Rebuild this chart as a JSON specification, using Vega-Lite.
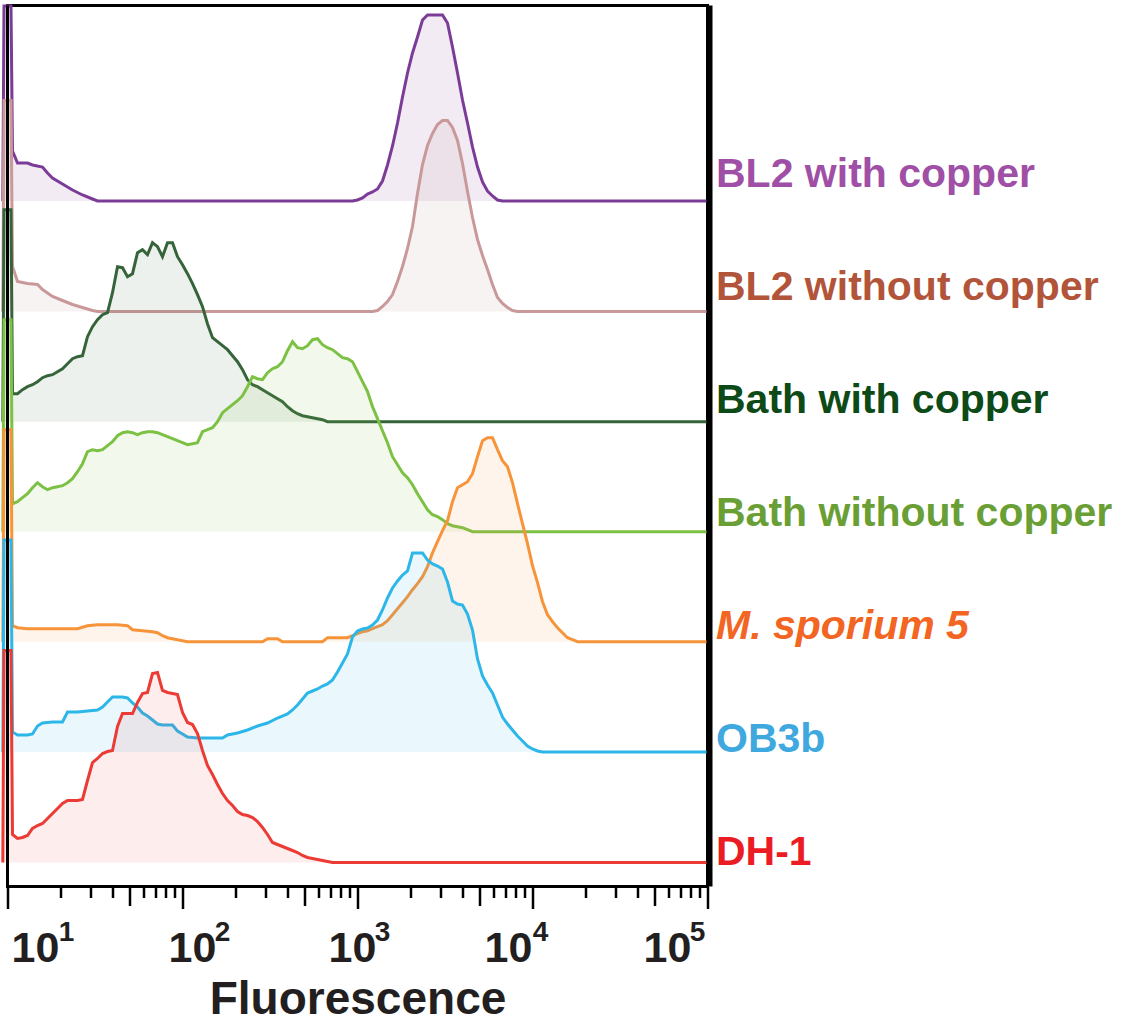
{
  "$schema": "https://vega.github.io/schema/vega-lite/v6.json",
  "width": 700,
  "height": 881,
  "autosize": {"type": "none"},
  "padding": {"left": 7.5, "top": 5.5, "right": 414.5, "bottom": 137.5},
  "background": "white",
  "config": {"view": {"stroke": "black", "strokeWidth": 3}, "font": "Liberation Sans"},
  "data": {"values": [
    {"s":"BL2 with copper","f":9.4,"c":0},{"s":"BL2 with copper","f":9.55,"c":195},{"s":"BL2 with copper","f":10.47,"c":195},{"s":"BL2 with copper","f":10.68,"c":50},{"s":"BL2 with copper","f":11.41,"c":38},{"s":"BL2 with copper","f":13.01,"c":38},{"s":"BL2 with copper","f":13.89,"c":36},{"s":"BL2 with copper","f":15.85,"c":34},{"s":"BL2 with copper","f":16.93,"c":28},{"s":"BL2 with copper","f":18.08,"c":23},{"s":"BL2 with copper","f":20.62,"c":17},{"s":"BL2 with copper","f":23.52,"c":11},{"s":"BL2 with copper","f":26.83,"c":6},{"s":"BL2 with copper","f":30.6,"c":2},{"s":"BL2 with copper","f":32.68,"c":0},{"s":"BL2 with copper","f":936.3,"c":0},{"s":"BL2 with copper","f":1000,"c":1},{"s":"BL2 with copper","f":1068,"c":3},{"s":"BL2 with copper","f":1141,"c":7},{"s":"BL2 with copper","f":1218,"c":9},{"s":"BL2 with copper","f":1301,"c":12},{"s":"BL2 with copper","f":1389,"c":20},{"s":"BL2 with copper","f":1484,"c":36},{"s":"BL2 with copper","f":1585,"c":55},{"s":"BL2 with copper","f":1693,"c":78},{"s":"BL2 with copper","f":1808,"c":104},{"s":"BL2 with copper","f":1931,"c":128},{"s":"BL2 with copper","f":2062,"c":148},{"s":"BL2 with copper","f":2202,"c":164},{"s":"BL2 with copper","f":2352,"c":181},{"s":"BL2 with copper","f":2512,"c":186},{"s":"BL2 with copper","f":3060,"c":186},{"s":"BL2 with copper","f":3268,"c":178},{"s":"BL2 with copper","f":3490,"c":154},{"s":"BL2 with copper","f":3728,"c":128},{"s":"BL2 with copper","f":3981,"c":101},{"s":"BL2 with copper","f":4252,"c":78},{"s":"BL2 with copper","f":4541,"c":54},{"s":"BL2 with copper","f":4850,"c":34},{"s":"BL2 with copper","f":5180,"c":19},{"s":"BL2 with copper","f":5532,"c":10},{"s":"BL2 with copper","f":5908,"c":5},{"s":"BL2 with copper","f":6310,"c":1},{"s":"BL2 with copper","f":6739,"c":0},{"s":"BL2 with copper","f":100000,"c":0},

    {"s":"BL2 without copper","f":9.4,"c":0},{"s":"BL2 without copper","f":9.55,"c":211},{"s":"BL2 without copper","f":10.47,"c":211},{"s":"BL2 without copper","f":10.68,"c":45},{"s":"BL2 without copper","f":11.41,"c":30},{"s":"BL2 without copper","f":13.01,"c":28},{"s":"BL2 without copper","f":14.84,"c":27},{"s":"BL2 without copper","f":15.85,"c":22},{"s":"BL2 without copper","f":18.08,"c":15},{"s":"BL2 without copper","f":20.62,"c":11},{"s":"BL2 without copper","f":23.52,"c":7},{"s":"BL2 without copper","f":26.83,"c":4},{"s":"BL2 without copper","f":30.6,"c":1},{"s":"BL2 without copper","f":32.68,"c":0},{"s":"BL2 without copper","f":1218,"c":0},{"s":"BL2 without copper","f":1301,"c":1},{"s":"BL2 without copper","f":1389,"c":5},{"s":"BL2 without copper","f":1484,"c":10},{"s":"BL2 without copper","f":1585,"c":17},{"s":"BL2 without copper","f":1693,"c":30},{"s":"BL2 without copper","f":1808,"c":45},{"s":"BL2 without copper","f":1931,"c":63},{"s":"BL2 without copper","f":2062,"c":85},{"s":"BL2 without copper","f":2202,"c":118},{"s":"BL2 without copper","f":2352,"c":147},{"s":"BL2 without copper","f":2512,"c":166},{"s":"BL2 without copper","f":2683,"c":178},{"s":"BL2 without copper","f":2865,"c":187},{"s":"BL2 without copper","f":3060,"c":191},{"s":"BL2 without copper","f":3268,"c":191},{"s":"BL2 without copper","f":3490,"c":184},{"s":"BL2 without copper","f":3728,"c":171},{"s":"BL2 without copper","f":3981,"c":148},{"s":"BL2 without copper","f":4252,"c":120},{"s":"BL2 without copper","f":4541,"c":94},{"s":"BL2 without copper","f":4850,"c":72},{"s":"BL2 without copper","f":5180,"c":56},{"s":"BL2 without copper","f":5532,"c":42},{"s":"BL2 without copper","f":5908,"c":27},{"s":"BL2 without copper","f":6310,"c":14},{"s":"BL2 without copper","f":6739,"c":8},{"s":"BL2 without copper","f":7197,"c":4},{"s":"BL2 without copper","f":7686,"c":1},{"s":"BL2 without copper","f":8209,"c":0},{"s":"BL2 without copper","f":100000,"c":0},

    {"s":"Bath with copper","f":9.4,"c":0},{"s":"Bath with copper","f":9.55,"c":212},{"s":"Bath with copper","f":10.47,"c":212},{"s":"Bath with copper","f":10.68,"c":28},{"s":"Bath with copper","f":11.41,"c":28},{"s":"Bath with copper","f":12.18,"c":32},{"s":"Bath with copper","f":13.01,"c":35},{"s":"Bath with copper","f":13.89,"c":37},{"s":"Bath with copper","f":14.84,"c":40},{"s":"Bath with copper","f":15.85,"c":44},{"s":"Bath with copper","f":16.93,"c":46},{"s":"Bath with copper","f":18.08,"c":47},{"s":"Bath with copper","f":19.31,"c":50},{"s":"Bath with copper","f":20.62,"c":53},{"s":"Bath with copper","f":22.02,"c":58},{"s":"Bath with copper","f":23.52,"c":63},{"s":"Bath with copper","f":25.12,"c":65},{"s":"Bath with copper","f":26.83,"c":66},{"s":"Bath with copper","f":28.65,"c":85},{"s":"Bath with copper","f":30.6,"c":95},{"s":"Bath with copper","f":32.68,"c":102},{"s":"Bath with copper","f":34.9,"c":107},{"s":"Bath with copper","f":37.28,"c":109},{"s":"Bath with copper","f":39.81,"c":129},{"s":"Bath with copper","f":42.52,"c":155},{"s":"Bath with copper","f":45.41,"c":154},{"s":"Bath with copper","f":48.5,"c":145},{"s":"Bath with copper","f":51.8,"c":148},{"s":"Bath with copper","f":55.32,"c":169},{"s":"Bath with copper","f":59.08,"c":172},{"s":"Bath with copper","f":63.1,"c":167},{"s":"Bath with copper","f":67.39,"c":179},{"s":"Bath with copper","f":71.97,"c":175},{"s":"Bath with copper","f":76.86,"c":165},{"s":"Bath with copper","f":82.09,"c":179},{"s":"Bath with copper","f":87.67,"c":179},{"s":"Bath with copper","f":93.63,"c":165},{"s":"Bath with copper","f":100,"c":157},{"s":"Bath with copper","f":106.8,"c":148},{"s":"Bath with copper","f":114.1,"c":138},{"s":"Bath with copper","f":121.8,"c":127},{"s":"Bath with copper","f":130.1,"c":115},{"s":"Bath with copper","f":138.9,"c":98},{"s":"Bath with copper","f":148.4,"c":84},{"s":"Bath with copper","f":158.5,"c":80},{"s":"Bath with copper","f":169.3,"c":76},{"s":"Bath with copper","f":180.8,"c":72},{"s":"Bath with copper","f":193.1,"c":66},{"s":"Bath with copper","f":206.2,"c":60},{"s":"Bath with copper","f":220.2,"c":52},{"s":"Bath with copper","f":235.2,"c":42},{"s":"Bath with copper","f":251.2,"c":37},{"s":"Bath with copper","f":268.3,"c":35},{"s":"Bath with copper","f":286.5,"c":32},{"s":"Bath with copper","f":306,"c":29},{"s":"Bath with copper","f":326.8,"c":26},{"s":"Bath with copper","f":349,"c":23},{"s":"Bath with copper","f":372.8,"c":20},{"s":"Bath with copper","f":398.1,"c":15},{"s":"Bath with copper","f":425.2,"c":11},{"s":"Bath with copper","f":454.1,"c":8},{"s":"Bath with copper","f":485,"c":6},{"s":"Bath with copper","f":553.2,"c":4},{"s":"Bath with copper","f":631,"c":2},{"s":"Bath with copper","f":673.9,"c":0},{"s":"Bath with copper","f":100000,"c":0},

    {"s":"Bath without copper","f":9.4,"c":0},{"s":"Bath without copper","f":9.55,"c":212},{"s":"Bath without copper","f":10.47,"c":212},{"s":"Bath without copper","f":10.68,"c":28},{"s":"Bath without copper","f":11.41,"c":30},{"s":"Bath without copper","f":12.18,"c":34},{"s":"Bath without copper","f":13.01,"c":38},{"s":"Bath without copper","f":13.89,"c":44},{"s":"Bath without copper","f":14.84,"c":49},{"s":"Bath without copper","f":15.85,"c":45},{"s":"Bath without copper","f":16.93,"c":42},{"s":"Bath without copper","f":18.08,"c":44},{"s":"Bath without copper","f":19.31,"c":45},{"s":"Bath without copper","f":20.62,"c":46},{"s":"Bath without copper","f":22.02,"c":49},{"s":"Bath without copper","f":23.52,"c":53},{"s":"Bath without copper","f":25.12,"c":60},{"s":"Bath without copper","f":26.83,"c":68},{"s":"Bath without copper","f":28.65,"c":80},{"s":"Bath without copper","f":30.6,"c":82},{"s":"Bath without copper","f":32.68,"c":81},{"s":"Bath without copper","f":34.9,"c":82},{"s":"Bath without copper","f":37.28,"c":86},{"s":"Bath without copper","f":39.81,"c":90},{"s":"Bath without copper","f":42.52,"c":96},{"s":"Bath without copper","f":45.41,"c":99},{"s":"Bath without copper","f":48.5,"c":100},{"s":"Bath without copper","f":51.8,"c":99},{"s":"Bath without copper","f":55.32,"c":97},{"s":"Bath without copper","f":59.08,"c":99},{"s":"Bath without copper","f":63.1,"c":100},{"s":"Bath without copper","f":67.39,"c":100},{"s":"Bath without copper","f":71.97,"c":99},{"s":"Bath without copper","f":76.86,"c":97},{"s":"Bath without copper","f":82.09,"c":95},{"s":"Bath without copper","f":87.67,"c":93},{"s":"Bath without copper","f":93.63,"c":91},{"s":"Bath without copper","f":100,"c":89},{"s":"Bath without copper","f":106.8,"c":87},{"s":"Bath without copper","f":114.1,"c":88},{"s":"Bath without copper","f":121.8,"c":89},{"s":"Bath without copper","f":130.1,"c":100},{"s":"Bath without copper","f":138.9,"c":102},{"s":"Bath without copper","f":148.4,"c":104},{"s":"Bath without copper","f":158.5,"c":110},{"s":"Bath without copper","f":169.3,"c":119},{"s":"Bath without copper","f":180.8,"c":123},{"s":"Bath without copper","f":193.1,"c":127},{"s":"Bath without copper","f":206.2,"c":131},{"s":"Bath without copper","f":220.2,"c":136},{"s":"Bath without copper","f":235.2,"c":145},{"s":"Bath without copper","f":251.2,"c":155},{"s":"Bath without copper","f":268.3,"c":153},{"s":"Bath without copper","f":286.5,"c":152},{"s":"Bath without copper","f":306,"c":159},{"s":"Bath without copper","f":326.8,"c":163},{"s":"Bath without copper","f":349,"c":165},{"s":"Bath without copper","f":372.8,"c":170},{"s":"Bath without copper","f":398.1,"c":181},{"s":"Bath without copper","f":425.2,"c":190},{"s":"Bath without copper","f":454.1,"c":184},{"s":"Bath without copper","f":485,"c":183},{"s":"Bath without copper","f":518,"c":186},{"s":"Bath without copper","f":553.2,"c":192},{"s":"Bath without copper","f":590.8,"c":193},{"s":"Bath without copper","f":631,"c":187},{"s":"Bath without copper","f":673.9,"c":184},{"s":"Bath without copper","f":719.7,"c":182},{"s":"Bath without copper","f":768.6,"c":178},{"s":"Bath without copper","f":820.9,"c":174},{"s":"Bath without copper","f":876.7,"c":173},{"s":"Bath without copper","f":936.3,"c":170},{"s":"Bath without copper","f":1000,"c":160},{"s":"Bath without copper","f":1068,"c":150},{"s":"Bath without copper","f":1141,"c":140},{"s":"Bath without copper","f":1218,"c":125},{"s":"Bath without copper","f":1301,"c":113},{"s":"Bath without copper","f":1389,"c":101},{"s":"Bath without copper","f":1484,"c":89},{"s":"Bath without copper","f":1585,"c":75},{"s":"Bath without copper","f":1693,"c":67},{"s":"Bath without copper","f":1808,"c":59},{"s":"Bath without copper","f":1931,"c":54},{"s":"Bath without copper","f":2062,"c":47},{"s":"Bath without copper","f":2202,"c":38},{"s":"Bath without copper","f":2352,"c":30},{"s":"Bath without copper","f":2512,"c":22},{"s":"Bath without copper","f":2683,"c":17},{"s":"Bath without copper","f":2865,"c":15},{"s":"Bath without copper","f":3060,"c":12},{"s":"Bath without copper","f":3268,"c":8},{"s":"Bath without copper","f":3490,"c":6},{"s":"Bath without copper","f":3728,"c":5},{"s":"Bath without copper","f":3981,"c":4},{"s":"Bath without copper","f":4252,"c":2},{"s":"Bath without copper","f":4541,"c":0},{"s":"Bath without copper","f":100000,"c":0},

    {"s":"M. sporium 5","f":9.4,"c":0},{"s":"M. sporium 5","f":9.55,"c":212},{"s":"M. sporium 5","f":10.47,"c":212},{"s":"M. sporium 5","f":10.68,"c":16},{"s":"M. sporium 5","f":11.41,"c":14},{"s":"M. sporium 5","f":13.01,"c":13},{"s":"M. sporium 5","f":14.84,"c":13},{"s":"M. sporium 5","f":16.93,"c":13},{"s":"M. sporium 5","f":19.31,"c":13},{"s":"M. sporium 5","f":22.02,"c":13},{"s":"M. sporium 5","f":25.12,"c":13},{"s":"M. sporium 5","f":28.65,"c":16},{"s":"M. sporium 5","f":32.68,"c":17},{"s":"M. sporium 5","f":37.28,"c":17},{"s":"M. sporium 5","f":42.52,"c":17},{"s":"M. sporium 5","f":48.5,"c":16},{"s":"M. sporium 5","f":51.8,"c":12},{"s":"M. sporium 5","f":59.08,"c":11},{"s":"M. sporium 5","f":67.39,"c":10},{"s":"M. sporium 5","f":71.97,"c":9},{"s":"M. sporium 5","f":76.86,"c":6},{"s":"M. sporium 5","f":82.09,"c":4},{"s":"M. sporium 5","f":93.63,"c":2},{"s":"M. sporium 5","f":106.8,"c":0},{"s":"M. sporium 5","f":286.5,"c":0},{"s":"M. sporium 5","f":306,"c":3},{"s":"M. sporium 5","f":349,"c":3},{"s":"M. sporium 5","f":372.8,"c":0},{"s":"M. sporium 5","f":631,"c":0},{"s":"M. sporium 5","f":673.9,"c":4},{"s":"M. sporium 5","f":876.7,"c":4},{"s":"M. sporium 5","f":936.3,"c":6},{"s":"M. sporium 5","f":1000,"c":8},{"s":"M. sporium 5","f":1068,"c":10},{"s":"M. sporium 5","f":1141,"c":11},{"s":"M. sporium 5","f":1218,"c":13},{"s":"M. sporium 5","f":1301,"c":15},{"s":"M. sporium 5","f":1389,"c":17},{"s":"M. sporium 5","f":1484,"c":21},{"s":"M. sporium 5","f":1585,"c":27},{"s":"M. sporium 5","f":1693,"c":33},{"s":"M. sporium 5","f":1808,"c":39},{"s":"M. sporium 5","f":1931,"c":45},{"s":"M. sporium 5","f":2062,"c":52},{"s":"M. sporium 5","f":2202,"c":58},{"s":"M. sporium 5","f":2352,"c":65},{"s":"M. sporium 5","f":2512,"c":75},{"s":"M. sporium 5","f":2683,"c":89},{"s":"M. sporium 5","f":2865,"c":100},{"s":"M. sporium 5","f":3060,"c":111},{"s":"M. sporium 5","f":3268,"c":121},{"s":"M. sporium 5","f":3490,"c":140},{"s":"M. sporium 5","f":3728,"c":154},{"s":"M. sporium 5","f":3981,"c":157},{"s":"M. sporium 5","f":4252,"c":160},{"s":"M. sporium 5","f":4541,"c":168},{"s":"M. sporium 5","f":4850,"c":185},{"s":"M. sporium 5","f":5180,"c":201},{"s":"M. sporium 5","f":5532,"c":204},{"s":"M. sporium 5","f":5908,"c":204},{"s":"M. sporium 5","f":6310,"c":192},{"s":"M. sporium 5","f":6739,"c":181},{"s":"M. sporium 5","f":7197,"c":175},{"s":"M. sporium 5","f":7686,"c":159},{"s":"M. sporium 5","f":8209,"c":138},{"s":"M. sporium 5","f":8767,"c":118},{"s":"M. sporium 5","f":9363,"c":98},{"s":"M. sporium 5","f":10000,"c":76},{"s":"M. sporium 5","f":10680,"c":59},{"s":"M. sporium 5","f":11410,"c":40},{"s":"M. sporium 5","f":12180,"c":27},{"s":"M. sporium 5","f":13010,"c":20},{"s":"M. sporium 5","f":13890,"c":14},{"s":"M. sporium 5","f":14840,"c":9},{"s":"M. sporium 5","f":15850,"c":4},{"s":"M. sporium 5","f":16930,"c":2},{"s":"M. sporium 5","f":18080,"c":0},{"s":"M. sporium 5","f":100000,"c":0},

    {"s":"OB3b","f":9.4,"c":0},{"s":"OB3b","f":9.55,"c":212},{"s":"OB3b","f":10.47,"c":212},{"s":"OB3b","f":10.68,"c":20},{"s":"OB3b","f":11.41,"c":17},{"s":"OB3b","f":13.01,"c":17},{"s":"OB3b","f":13.89,"c":18},{"s":"OB3b","f":14.84,"c":26},{"s":"OB3b","f":15.85,"c":29},{"s":"OB3b","f":18.08,"c":30},{"s":"OB3b","f":20.62,"c":30},{"s":"OB3b","f":22.02,"c":40},{"s":"OB3b","f":25.12,"c":40},{"s":"OB3b","f":28.65,"c":41},{"s":"OB3b","f":32.68,"c":42},{"s":"OB3b","f":34.9,"c":45},{"s":"OB3b","f":37.28,"c":50},{"s":"OB3b","f":39.81,"c":55},{"s":"OB3b","f":45.41,"c":55},{"s":"OB3b","f":48.5,"c":54},{"s":"OB3b","f":51.8,"c":49},{"s":"OB3b","f":55.32,"c":45},{"s":"OB3b","f":59.08,"c":39},{"s":"OB3b","f":63.1,"c":36},{"s":"OB3b","f":67.39,"c":32},{"s":"OB3b","f":71.97,"c":28},{"s":"OB3b","f":76.86,"c":27},{"s":"OB3b","f":87.67,"c":27},{"s":"OB3b","f":93.63,"c":21},{"s":"OB3b","f":100,"c":18},{"s":"OB3b","f":106.8,"c":15},{"s":"OB3b","f":121.8,"c":14},{"s":"OB3b","f":169.3,"c":14},{"s":"OB3b","f":180.8,"c":17},{"s":"OB3b","f":206.2,"c":19},{"s":"OB3b","f":235.2,"c":22},{"s":"OB3b","f":268.3,"c":26},{"s":"OB3b","f":306,"c":29},{"s":"OB3b","f":349,"c":34},{"s":"OB3b","f":398.1,"c":38},{"s":"OB3b","f":425.2,"c":42},{"s":"OB3b","f":454.1,"c":47},{"s":"OB3b","f":485,"c":53},{"s":"OB3b","f":518,"c":59},{"s":"OB3b","f":553.2,"c":61},{"s":"OB3b","f":590.8,"c":63},{"s":"OB3b","f":631,"c":66},{"s":"OB3b","f":673.9,"c":68},{"s":"OB3b","f":719.7,"c":72},{"s":"OB3b","f":768.6,"c":80},{"s":"OB3b","f":820.9,"c":89},{"s":"OB3b","f":876.7,"c":98},{"s":"OB3b","f":936.3,"c":115},{"s":"OB3b","f":1000,"c":121},{"s":"OB3b","f":1068,"c":123},{"s":"OB3b","f":1141,"c":124},{"s":"OB3b","f":1218,"c":127},{"s":"OB3b","f":1301,"c":132},{"s":"OB3b","f":1389,"c":142},{"s":"OB3b","f":1484,"c":154},{"s":"OB3b","f":1585,"c":164},{"s":"OB3b","f":1693,"c":171},{"s":"OB3b","f":1808,"c":177},{"s":"OB3b","f":1931,"c":181},{"s":"OB3b","f":2062,"c":199},{"s":"OB3b","f":2202,"c":199},{"s":"OB3b","f":2352,"c":199},{"s":"OB3b","f":2512,"c":192},{"s":"OB3b","f":2683,"c":188},{"s":"OB3b","f":2865,"c":186},{"s":"OB3b","f":3060,"c":183},{"s":"OB3b","f":3268,"c":170},{"s":"OB3b","f":3490,"c":151},{"s":"OB3b","f":3728,"c":148},{"s":"OB3b","f":3981,"c":147},{"s":"OB3b","f":4252,"c":138},{"s":"OB3b","f":4541,"c":122},{"s":"OB3b","f":4850,"c":93},{"s":"OB3b","f":5180,"c":76},{"s":"OB3b","f":5532,"c":67},{"s":"OB3b","f":5908,"c":59},{"s":"OB3b","f":6310,"c":47},{"s":"OB3b","f":6739,"c":35},{"s":"OB3b","f":7197,"c":28},{"s":"OB3b","f":7686,"c":22},{"s":"OB3b","f":8209,"c":16},{"s":"OB3b","f":8767,"c":11},{"s":"OB3b","f":9363,"c":6},{"s":"OB3b","f":10000,"c":3},{"s":"OB3b","f":10680,"c":1},{"s":"OB3b","f":11410,"c":0},{"s":"OB3b","f":100000,"c":0},

    {"s":"DH-1","f":9.4,"c":0},{"s":"DH-1","f":9.55,"c":212},{"s":"DH-1","f":10.47,"c":212},{"s":"DH-1","f":10.68,"c":28},{"s":"DH-1","f":11.41,"c":24},{"s":"DH-1","f":12.18,"c":25},{"s":"DH-1","f":13.01,"c":27},{"s":"DH-1","f":13.89,"c":34},{"s":"DH-1","f":14.84,"c":37},{"s":"DH-1","f":15.85,"c":39},{"s":"DH-1","f":16.93,"c":44},{"s":"DH-1","f":18.08,"c":49},{"s":"DH-1","f":19.31,"c":54},{"s":"DH-1","f":20.62,"c":59},{"s":"DH-1","f":22.02,"c":62},{"s":"DH-1","f":25.12,"c":62},{"s":"DH-1","f":26.83,"c":63},{"s":"DH-1","f":28.65,"c":82},{"s":"DH-1","f":30.6,"c":100},{"s":"DH-1","f":32.68,"c":104},{"s":"DH-1","f":34.9,"c":109},{"s":"DH-1","f":37.28,"c":111},{"s":"DH-1","f":39.81,"c":112},{"s":"DH-1","f":42.52,"c":136},{"s":"DH-1","f":45.41,"c":149},{"s":"DH-1","f":51.8,"c":149},{"s":"DH-1","f":55.32,"c":160},{"s":"DH-1","f":59.08,"c":169},{"s":"DH-1","f":63.1,"c":170},{"s":"DH-1","f":67.39,"c":189},{"s":"DH-1","f":71.97,"c":190},{"s":"DH-1","f":76.86,"c":172},{"s":"DH-1","f":82.09,"c":170},{"s":"DH-1","f":87.67,"c":169},{"s":"DH-1","f":93.63,"c":168},{"s":"DH-1","f":100,"c":150},{"s":"DH-1","f":106.8,"c":140},{"s":"DH-1","f":114.1,"c":138},{"s":"DH-1","f":121.8,"c":129},{"s":"DH-1","f":130.1,"c":112},{"s":"DH-1","f":138.9,"c":97},{"s":"DH-1","f":148.4,"c":88},{"s":"DH-1","f":158.5,"c":78},{"s":"DH-1","f":169.3,"c":69},{"s":"DH-1","f":180.8,"c":62},{"s":"DH-1","f":193.1,"c":57},{"s":"DH-1","f":206.2,"c":51},{"s":"DH-1","f":220.2,"c":48},{"s":"DH-1","f":235.2,"c":47},{"s":"DH-1","f":251.2,"c":45},{"s":"DH-1","f":268.3,"c":41},{"s":"DH-1","f":286.5,"c":35},{"s":"DH-1","f":306,"c":28},{"s":"DH-1","f":326.8,"c":20},{"s":"DH-1","f":349,"c":18},{"s":"DH-1","f":372.8,"c":16},{"s":"DH-1","f":398.1,"c":14},{"s":"DH-1","f":425.2,"c":12},{"s":"DH-1","f":454.1,"c":10},{"s":"DH-1","f":485,"c":7},{"s":"DH-1","f":518,"c":5},{"s":"DH-1","f":553.2,"c":4},{"s":"DH-1","f":631,"c":2},{"s":"DH-1","f":719.7,"c":0},{"s":"DH-1","f":100000,"c":0}
  ]},
  "layer": [
    {"transform": [{"filter": "datum.s == 'BL2 with copper'"}],
     "encoding": {
       "x": {"field": "f", "type": "quantitative", "scale": {"type": "log", "domain": [10, 100000], "nice": false},
         "axis": {
           "orient": "bottom",
           "values": [10,20,30,40,50,60,70,80,90,100,200,300,400,500,600,700,800,900,1000,2000,3000,4000,5000,6000,7000,8000,9000,10000,20000,30000,40000,50000,60000,70000,80000,90000,100000],
           "labelExpr": "indexof([10,100,1000,10000,100000], datum.value) >= 0 ? '10' : ''",
           "title": "Fluorescence",
           "titleFont": "Liberation Sans", "titleFontSize": 46, "titleFontWeight": "bold", "titleColor": "#231f20", "titlePadding": 7,
           "labelFont": "Liberation Sans", "labelFontSize": 43, "labelFontWeight": "bold", "labelColor": "#231f20",
           "labelOverlap": false, "labelBound": false, "labelFlush": false,
           "labelPadding": 19,
           "labelOffset": {"condition": [
             {"test": "datum.value == 10", "value": 27.5},
             {"test": "datum.value == 100", "value": 9.5},
             {"test": "datum.value == 1000", "value": -5.5},
             {"test": "datum.value == 10000", "value": -24.5},
             {"test": "datum.value == 100000", "value": -40.5}
           ], "value": 0},
           "tickSize": {"condition": [
             {"test": "indexof([10,100,1000,10000,100000], datum.value) >= 0", "value": 22},
             {"test": "indexof([50,500,5000,50000], datum.value) >= 0", "value": 19}
           ], "value": 11},
           "tickWidth": 2.5, "tickColor": "black",
           "domain": false, "grid": false
         }},
       "y": {"field": "c", "type": "quantitative", "scale": {"domain": [-685.5, 195.5], "nice": false, "zero": false}, "axis": null}},
     "layer": [
       {"mark": {"type": "area", "color": "#7b3c98", "fillOpacity": 0.1}, "encoding": {"y2": {"datum": 0}}},
       {"mark": {"type": "line", "color": "#7b3c98", "strokeWidth": 3}}
     ]},
    {"transform": [{"filter": "datum.s == 'BL2 without copper'"}],
     "encoding": {
       "x": {"field": "f", "type": "quantitative", "scale": {"type": "log", "domain": [10, 100000], "nice": false}, "axis": null},
       "y": {"field": "c", "type": "quantitative", "scale": {"domain": [-575, 306], "nice": false, "zero": false}, "axis": null}},
     "layer": [
       {"mark": {"type": "area", "color": "#c9999a", "fillOpacity": 0.12}, "encoding": {"y2": {"datum": 0}}},
       {"mark": {"type": "line", "color": "#c9999a", "strokeWidth": 3}}
     ]},
    {"transform": [{"filter": "datum.s == 'Bath with copper'"}],
     "encoding": {
       "x": {"field": "f", "type": "quantitative", "scale": {"type": "log", "domain": [10, 100000], "nice": false}, "axis": null},
       "y": {"field": "c", "type": "quantitative", "scale": {"domain": [-464.8, 416.2], "nice": false, "zero": false}, "axis": null}},
     "layer": [
       {"mark": {"type": "area", "color": "#36643a", "fillOpacity": 0.09}, "encoding": {"y2": {"datum": 0}}},
       {"mark": {"type": "line", "color": "#36643a", "strokeWidth": 3}}
     ]},
    {"transform": [{"filter": "datum.s == 'Bath without copper'"}],
     "encoding": {
       "x": {"field": "f", "type": "quantitative", "scale": {"type": "log", "domain": [10, 100000], "nice": false}, "axis": null},
       "y": {"field": "c", "type": "quantitative", "scale": {"domain": [-354.8, 526.2], "nice": false, "zero": false}, "axis": null}},
     "layer": [
       {"mark": {"type": "area", "color": "#7cc143", "fillOpacity": 0.1}, "encoding": {"y2": {"datum": 0}}},
       {"mark": {"type": "line", "color": "#7cc143", "strokeWidth": 3}}
     ]},
    {"transform": [{"filter": "datum.s == 'M. sporium 5'"}],
     "encoding": {
       "x": {"field": "f", "type": "quantitative", "scale": {"type": "log", "domain": [10, 100000], "nice": false}, "axis": null},
       "y": {"field": "c", "type": "quantitative", "scale": {"domain": [-244.8, 636.2], "nice": false, "zero": false}, "axis": null}},
     "layer": [
       {"mark": {"type": "area", "color": "#f7943a", "fillOpacity": 0.1}, "encoding": {"y2": {"datum": 0}}},
       {"mark": {"type": "line", "color": "#f7943a", "strokeWidth": 3}}
     ]},
    {"transform": [{"filter": "datum.s == 'OB3b'"}],
     "encoding": {
       "x": {"field": "f", "type": "quantitative", "scale": {"type": "log", "domain": [10, 100000], "nice": false}, "axis": null},
       "y": {"field": "c", "type": "quantitative", "scale": {"domain": [-134.5, 746.5], "nice": false, "zero": false}, "axis": null}},
     "layer": [
       {"mark": {"type": "area", "color": "#2db6e8", "fillOpacity": 0.1}, "encoding": {"y2": {"datum": 0}}},
       {"mark": {"type": "line", "color": "#2db6e8", "strokeWidth": 3}}
     ]},
    {"transform": [{"filter": "datum.s == 'DH-1'"}],
     "encoding": {
       "x": {"field": "f", "type": "quantitative", "scale": {"type": "log", "domain": [10, 100000], "nice": false}, "axis": null},
       "y": {"field": "c", "type": "quantitative", "scale": {"domain": [-24, 857], "nice": false, "zero": false}, "axis": null}},
     "layer": [
       {"mark": {"type": "area", "color": "#ec3a35", "fillOpacity": 0.09}, "encoding": {"y2": {"datum": 0}}},
       {"mark": {"type": "line", "color": "#ec3a35", "strokeWidth": 3}}
     ]},
    {"data": {"values": [
       {"label": "BL2 with copper", "r": 6},
       {"label": "BL2 without copper", "r": 5},
       {"label": "Bath with copper", "r": 4},
       {"label": "Bath without copper", "r": 3},
       {"label": "M. sporium 5", "r": 2},
       {"label": "OB3b", "r": 1},
       {"label": "DH-1", "r": 0}
     ]},
     "mark": {"type": "text", "align": "left", "baseline": "alphabetic", "dx": 8.5, "font": "Liberation Sans", "fontSize": 41, "fontWeight": "bold",
              "fontStyle": {"expr": "datum.label == 'M. sporium 5' ? 'italic' : 'normal'"}},
     "encoding": {
       "x": {"datum": 100000, "scale": {"type": "log", "domain": [10, 100000], "nice": false}, "axis": null},
       "y": {"field": "r", "type": "quantitative", "scale": {"domain": [-0.19, 7.606], "nice": false, "zero": false}, "axis": null},
       "text": {"field": "label"},
       "color": {"field": "label", "type": "nominal", "legend": null,
         "scale": {"domain": ["BL2 with copper","BL2 without copper","Bath with copper","Bath without copper","M. sporium 5","OB3b","DH-1"],
                   "range": ["#a04fa6","#b2543a","#0d4a17","#6a9f35","#f26522","#3ea8df","#ec1c24"]}}
     }},
    {"data": {"values": [{"edge": "left"}]},
     "mark": {"type": "rule", "color": "black", "strokeWidth": 3},
     "encoding": {"x": {"datum": 10, "scale": {"type": "log", "domain": [10, 100000], "nice": false}, "axis": null}}},
    {"data": {"values": [{"edge": "right"}]},
     "mark": {"type": "rule", "color": "black", "strokeWidth": 6, "xOffset": 2},
     "encoding": {"x": {"datum": 100000, "scale": {"type": "log", "domain": [10, 100000], "nice": false}, "axis": null}}},
    {"data": {"values": [{"edge": "sup"}]},
     "mark": {"type": "rule", "opacity": 0},
     "encoding": {"x": {"datum": 10, "scale": {"type": "log", "domain": [10, 100000], "nice": false},
       "axis": {
         "orient": "bottom",
         "values": [10, 100, 1000, 10000, 100000],
         "labelExpr": "'' + round(log(datum.value) / LN10)",
         "title": null, "ticks": false, "tickSize": 0, "domain": false, "grid": false,
         "labelFont": "Liberation Sans", "labelFontSize": 28, "labelFontWeight": "bold", "labelColor": "#231f20",
         "labelOverlap": false, "labelBound": false, "labelFlush": false,
         "labelPadding": 31.5,
         "labelOffset": {"condition": [
           {"test": "datum.value == 10", "value": 58.5},
           {"test": "datum.value == 100", "value": 39.5},
           {"test": "datum.value == 1000", "value": 24.5},
           {"test": "datum.value == 10000", "value": 7.5},
           {"test": "datum.value == 100000", "value": -10.5}
         ], "value": 0}
       }}}}
  ],
  "resolve": {"scale": {"x": "independent", "y": "independent"}, "axis": {"x": "independent"}}
}
